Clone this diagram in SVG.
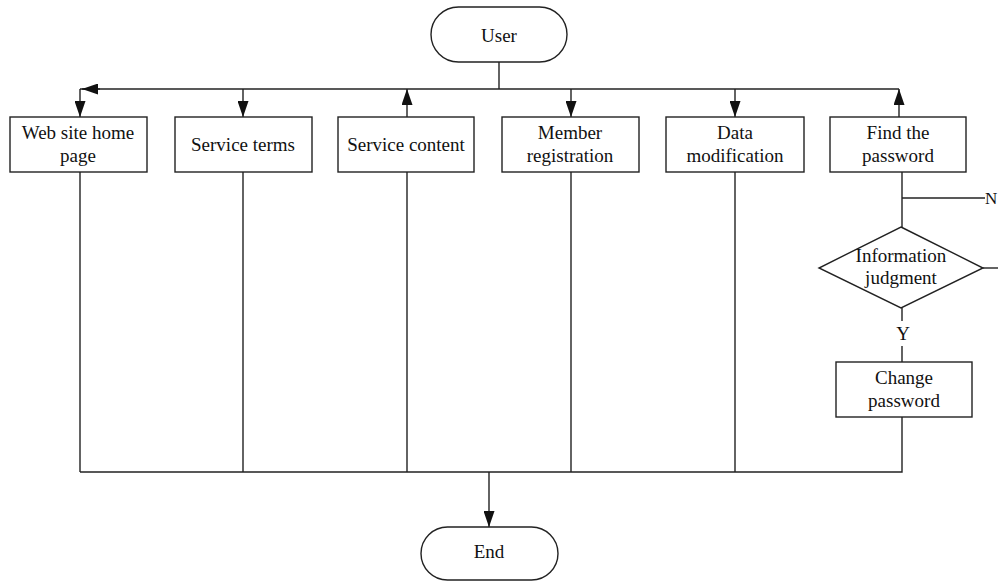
<svg xmlns="http://www.w3.org/2000/svg" width="998" height="582" viewBox="0 0 998 582">
<style>
.box{fill:#fff;stroke:#222;stroke-width:1.4}
.ln{fill:none;stroke:#222;stroke-width:1.4}
text{font-family:"Liberation Serif","Times New Roman",serif;font-size:19px;fill:#111;text-anchor:middle}
</style>
<defs>
<marker id="ah" markerUnits="userSpaceOnUse" markerWidth="17" markerHeight="11" refX="16" refY="5.5" orient="auto">
<path d="M0,0 L16,5.5 L0,11 z" fill="#111"/>
</marker>
</defs>
<rect width="998" height="582" fill="#fff"/>
<g id="connectors">
<path class="ln" d="M499,62 V89"/>
<path class="ln" d="M899,89 H80"/>
<path class="ln" d="M100,89 H82" marker-end="url(#ah)"/>
<path class="ln" d="M80,89 V117" marker-end="url(#ah)"/>
<path class="ln" d="M243,89 V117" marker-end="url(#ah)"/>
<path class="ln" d="M407,117 V89" marker-end="url(#ah)"/>
<path class="ln" d="M571,89 V117" marker-end="url(#ah)"/>
<path class="ln" d="M735,89 V117" marker-end="url(#ah)"/>
<path class="ln" d="M899,117 V89" marker-end="url(#ah)"/>
<path class="ln" d="M80,172 V472"/>
<path class="ln" d="M243,172 V472"/>
<path class="ln" d="M407,172 V472"/>
<path class="ln" d="M571,172 V472"/>
<path class="ln" d="M735,172 V472"/>
<path class="ln" d="M902,172 V227"/>
<path class="ln" d="M902,198 H985"/>
<text x="985" y="204" style="text-anchor:start;font-size:17px">N</text>
<path class="ln" d="M983,268 H998"/>
<path class="ln" d="M902,308 V321"/>
<text x="903" y="340">Y</text>
<path class="ln" d="M902,346 V362"/>
<path class="ln" d="M902,417 V472 H80"/>
<path class="ln" d="M489,472 V527" marker-end="url(#ah)"/>
</g>
<g id="user">
<rect class="box" x="431" y="7" width="136" height="55" rx="27.5"/>
<text x="499" y="42">User</text>
</g>
<g id="home">
<rect class="box" x="10" y="117" width="137" height="55"/>
<text x="78" y="139">Web site home</text>
<text x="78" y="162">page</text>
</g>
<g id="terms">
<rect class="box" x="175" y="117" width="137" height="55"/>
<text x="243" y="151">Service terms</text>
</g>
<g id="content">
<rect class="box" x="338" y="117" width="136" height="55"/>
<text x="406" y="151">Service content</text>
</g>
<g id="member">
<rect class="box" x="502" y="117" width="137" height="55"/>
<text x="570" y="139">Member</text>
<text x="570" y="162">registration</text>
</g>
<g id="data">
<rect class="box" x="666" y="117" width="138" height="55"/>
<text x="735" y="139">Data</text>
<text x="735" y="162">modification</text>
</g>
<g id="find">
<rect class="box" x="830" y="117" width="136" height="55"/>
<text x="898" y="139">Find the</text>
<text x="898" y="162">password</text>
</g>
<g id="judge">
<polygon class="box" points="901,227 983,268 901,308 819,268"/>
<text x="901" y="262">Information</text>
<text x="901" y="284">judgment</text>
</g>
<g id="change">
<rect class="box" x="836" y="362" width="136" height="55"/>
<text x="904" y="384">Change</text>
<text x="904" y="407">password</text>
</g>
<g id="end">
<rect class="box" x="421" y="527" width="137" height="53" rx="26.5"/>
<text x="489" y="558">End</text>
</g>
</svg>
